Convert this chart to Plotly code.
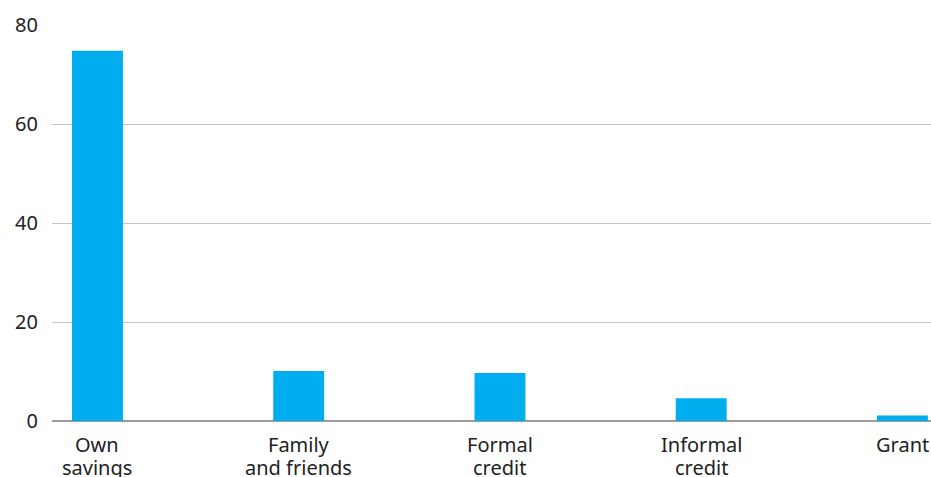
import plotly.graph_objects as go

# Sources of funding (share of respondents, %)
categories = ["Own savings", "Family and friends", "Formal credit", "Informal credit", "Grant"]
label_lines = [["Own", "savings"], ["Family", "and friends"], ["Formal", "credit"], ["Informal", "credit"], ["Grant"]]
values = [74.8, 10.1, 9.7, 4.6, 1.1]
y_ticks = [0, 20, 40, 60, 80]

BAR_COLOR = "#00AEEF"
TEXT_COLOR = "#222222"
FONT = "Noto Sans"
FONT_SIZE = 20
LINE_GAP = 22.5      # px between stacked category label lines
FIRST_LINE_SHIFT = -23.5

fig = go.Figure(
    go.Bar(
        x=categories,
        y=values,
        marker=dict(color=BAR_COLOR, line=dict(width=0)),
        width=0.253,
        hoverinfo="x+y",
    )
)

# Category labels, set line by line for tighter leading than tick labels allow
for cat, lines in zip(categories, label_lines):
    for j, line in enumerate(lines):
        fig.add_annotation(
            x=cat,
            xref="x",
            y=0,
            yref="paper",
            text=line,
            showarrow=False,
            xanchor="center",
            yanchor="middle",
            yshift=FIRST_LINE_SHIFT - j * LINE_GAP,
            font=dict(family=FONT, size=FONT_SIZE, color=TEXT_COLOR),
        )

fig.update_layout(
    width=931,
    height=477,
    margin=dict(l=52, r=0, t=25, b=56),
    paper_bgcolor="white",
    plot_bgcolor="white",
    showlegend=False,
    font=dict(family=FONT, size=FONT_SIZE, color=TEXT_COLOR),
    xaxis=dict(
        type="category",
        range=[-0.226, 4.142],
        showgrid=False,
        showline=False,
        ticks="",
        showticklabels=False,
    ),
    yaxis=dict(
        range=[0, 80],
        tickvals=y_ticks,
        showgrid=True,
        gridcolor="#c4c4c4",
        gridwidth=1,
        zeroline=True,
        zerolinecolor="#9a9a9a",
        zerolinewidth=1.5,
        showline=False,
        ticks="",
        ticklabelstandoff=13,
        tickfont=dict(family=FONT, size=FONT_SIZE, color=TEXT_COLOR),
    ),
)

fig.write_html("out.html")
